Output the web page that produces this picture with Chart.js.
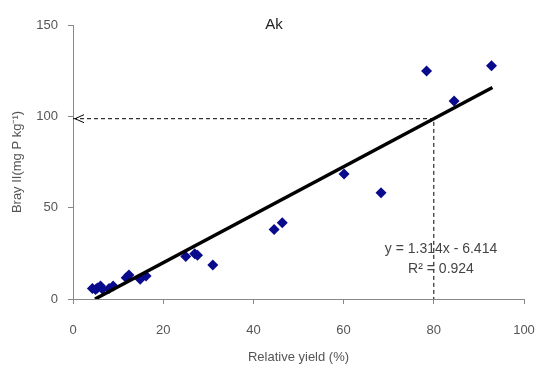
<!DOCTYPE html>
<html>
<head>
<meta charset="utf-8">
<script src="https://cdn.jsdelivr.net/npm/chart.js@4/dist/chart.umd.min.js"></script>
<style>
  html, body { margin: 0; padding: 0; background: #fff; }
  #wrap { width: 537px; height: 367px; }
</style>
</head>
<body>
<div id="wrap"><canvas id="akChart" width="537" height="367"></canvas></div>
<script>
// relative yield (%) vs Bray II P for the Ak soils
const relYield = [4.3, 5.0, 5.4, 6.1, 6.5, 8.0, 8.9, 11.8, 12.4, 14.9, 16.2, 25.0, 27.0, 27.6, 31.0, 44.6, 46.4, 60.1, 68.3, 78.4, 84.5, 92.8];
const brayP = [5.8, 5.2, 6.0, 7.1, 5.5, 5.8, 7.1, 11.7, 13.1, 10.8, 12.6, 23.2, 24.8, 24.0, 18.6, 38.0, 41.8, 68.4, 58.2, 124.8, 108.4, 127.7];

// fitted line y = 1.314x - 6.414, R² = 0.924
const slope = 1.314;
const intercept = -6.414;
const fitRange = [-intercept / slope, 93];
const critYield = 80;

const xTicks = [0, 20, 40, 60, 80, 100];
const yTicks = [0, 50, 100, 150];

const fitY = x => slope * x + intercept;
const critP = fitY(critYield);

const textColor = '#555';
const axisColor = '#888';
const fontFamily = '"Liberation Sans", Arial, sans-serif';

// title, equation and the arrowhead at the end of the horizontal guide
const annotations = {
    id: 'annotations',
    afterDatasetsDraw(chart) {
        const { ctx, scales: { x, y } } = chart;
        ctx.save();
        ctx.fillStyle = '#222';
        ctx.font = '15px ' + fontFamily;
        ctx.textAlign = 'center';
        ctx.textBaseline = 'middle';
        ctx.fillText('Ak', 274, 25);

        ctx.fillStyle = '#444';
        ctx.font = '14px ' + fontFamily;
        ctx.fillText('y = 1.314x - 6.414', 441, 249);
        ctx.fillText('R\u00b2 = 0.924', 441, 269);

        const ax = x.getPixelForValue(0) + 2;
        const ay = y.getPixelForValue(critP);
        ctx.strokeStyle = '#000';
        ctx.lineWidth = 1;
        ctx.beginPath();
        ctx.moveTo(ax + 9, ay - 4);
        ctx.lineTo(ax, ay);
        ctx.lineTo(ax + 9, ay + 4);
        ctx.stroke();
        ctx.restore();
    }
};

new Chart(document.getElementById('akChart'), {
    type: 'scatter',
    data: {
        datasets: [{
            label: 'Bray II',
            data: relYield.map((v, i) => ({ x: v, y: brayP[i] })),
            pointStyle: 'rectRot',
            pointRadius: 5.5,
            backgroundColor: '#0a0a8c',
            borderColor: '#0a0a8c',
            borderWidth: 0,
            order: 2
        }, {
            label: 'Fit',
            type: 'line',
            data: fitRange.map(v => ({ x: v, y: fitY(v) })),
            borderColor: '#000',
            borderWidth: 3.5,
            pointRadius: 0,
            fill: false,
            order: 1
        }, {
            label: 'Guide',
            type: 'line',
            data: [{ x: 0, y: critP }, { x: critYield, y: critP }, { x: critYield, y: 0 }],
            borderColor: '#000',
            borderWidth: 1,
            borderDash: [4, 3],
            pointRadius: 0,
            fill: false,
            order: 0
        }]
    },
    options: {
        responsive: false,
        animation: false,
        layout: { padding: { left: 0, right: 13, top: 25, bottom: 0 } },
        plugins: {
            legend: { display: false },
            tooltip: { enabled: false }
        },
        scales: {
            x: {
                type: 'linear',
                min: 0,
                max: 100,
                afterBuildTicks: s => { s.ticks = xTicks.map(v => ({ value: v })); },
                afterFit: s => { s.height = 68; s.paddingLeft = 0; s.paddingRight = 0; },
                grid: { drawOnChartArea: false, tickLength: 5, color: axisColor },
                border: { color: axisColor },
                ticks: { color: textColor, padding: 19, font: { size: 13, family: fontFamily } },
                title: {
                    display: true,
                    text: 'Relative yield (%)',
                    color: textColor,
                    padding: { top: 0, bottom: 2 },
                    font: { size: 13, family: fontFamily }
                }
            },
            y: {
                type: 'linear',
                min: 0,
                max: 150,
                afterBuildTicks: s => { s.ticks = yTicks.map(v => ({ value: v })); },
                afterFit: s => { s.width = 73; s.paddingTop = 0; s.paddingBottom = 0; },
                grid: { drawOnChartArea: false, tickLength: 5, color: axisColor },
                border: { color: axisColor },
                ticks: { color: textColor, padding: 10, font: { size: 13, family: fontFamily } },
                title: {
                    display: true,
                    text: 'Bray II(mg P kg\u207b\u00b9)',
                    color: textColor,
                    padding: { top: 10, bottom: 8 },
                    font: { size: 13, family: fontFamily }
                }
            }
        }
    },
    plugins: [annotations]
});
</script>
</body>
</html>
